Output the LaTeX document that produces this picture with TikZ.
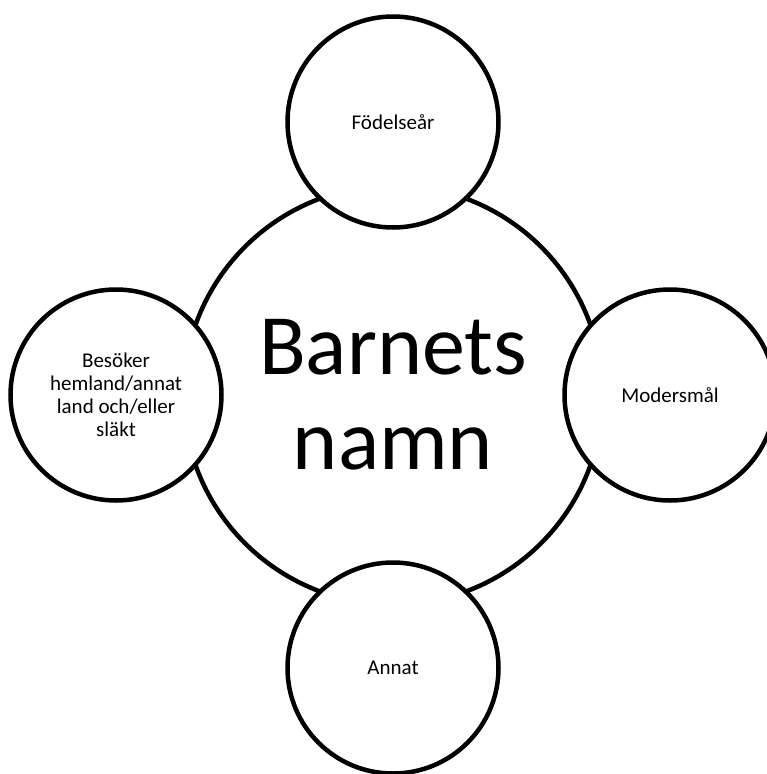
\documentclass[tikz,border=0pt]{standalone}
\usepackage{fontspec}
\setmainfont{Carlito}
\usetikzlibrary{positioning}

\begin{document}
\begin{tikzpicture}[
    x=1pt, y=-1pt,
    node distance=273pt and 277pt, on grid,
    hubnode/.style={circle, draw, line width=4.5pt, minimum size=419pt, inner sep=0pt, align=center, font=\fontsize{86}{95}\selectfont},
    spokenode/.style={circle, draw, fill=white, line width=4.5pt, minimum size=211pt, inner sep=0pt, align=center, font=\fontsize{21}{23}\selectfont}
]
\useasboundingbox (0,0) rectangle (767,774);

% Nodes
\node[hubnode] (Barn) at (393,395) {Barnets\\namn};
\node[spokenode, above=of Barn] (Fodelsear) {Födelseår};
\node[spokenode, right=of Barn] (Modersmal) {Modersmål};
\node[spokenode, below=of Barn] (Annat) {Annat};
\node[spokenode, left=of Barn] (Besoker) {Besöker\\hemland/annat\\land och/eller\\släkt};

\end{tikzpicture}
\end{document}
